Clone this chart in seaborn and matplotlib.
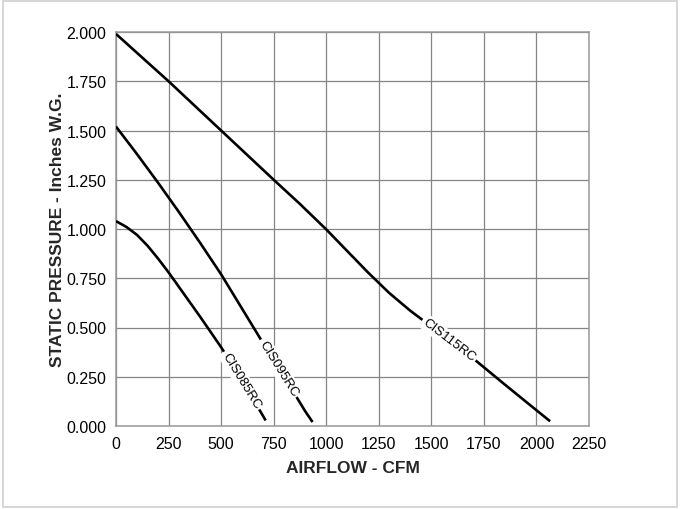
import numpy as np
import pandas as pd
import matplotlib
matplotlib.use("Agg")
import matplotlib.pyplot as plt
from matplotlib.patches import Rectangle
import seaborn as sns

# Fan performance curves: airflow (CFM) vs static pressure (in. W.G.)
models = ["CIS085RC", "CIS095RC", "CIS115RC"]

cis085_cfm = [0, 50, 100, 150, 200, 250, 300, 400, 500, 600, 700, 712]
cis085_sp = [1.040, 1.010, 0.970, 0.915, 0.850, 0.780, 0.705, 0.555, 0.400, 0.230, 0.050, 0.028]

cis095_cfm = [0, 100, 200, 300, 400, 500, 600, 700, 800, 900, 935]
cis095_sp = [1.520, 1.380, 1.235, 1.085, 0.930, 0.770, 0.595, 0.420, 0.250, 0.075, 0.020]

cis115_cfm = [0, 250, 500, 750, 875, 1000, 1100, 1200, 1300, 1400, 1500, 1600, 1708,
              1850, 2000, 2065]
cis115_sp = [1.990, 1.750, 1.500, 1.250, 1.127, 0.998, 0.888, 0.778, 0.675, 0.585, 0.505,
             0.425, 0.335, 0.210, 0.080, 0.024]

# where along each curve its name is written (CFM span of the label)
label_span = {"CIS085RC": (514, 684), "CIS095RC": (689, 860), "CIS115RC": (1462, 1708)}

x_ticks = [0, 250, 500, 750, 1000, 1250, 1500, 1750, 2000, 2250]
y_ticks = [0.0, 0.25, 0.5, 0.75, 1.0, 1.25, 1.5, 1.75, 2.0]

curves = {
    "CIS085RC": (cis085_cfm, cis085_sp),
    "CIS095RC": (cis095_cfm, cis095_sp),
    "CIS115RC": (cis115_cfm, cis115_sp),
}
df = pd.concat(
    [pd.DataFrame({"cfm": c, "sp": p, "model": m}) for m, (c, p) in curves.items()],
    ignore_index=True,
)

sns.set_theme(style="white")
plt.rcParams["font.family"] = ["Liberation Sans", "DejaVu Sans"]

fig = plt.figure(figsize=(6.81, 5.10), dpi=100)
ax = fig.add_axes([116 / 681, 1 - 427 / 510, 473 / 681, 394 / 510])

sns.lineplot(
    data=df, x="cfm", y="sp", hue="model", units="model", estimator=None,
    sort=False, palette={m: "black" for m in models}, linewidth=1.9,
    legend=False, ax=ax, zorder=3, solid_joinstyle="round", solid_capstyle="butt",
)

ax.set_xlim(0, 2250)
ax.set_ylim(0, 2.0)
ax.set_xticks(x_ticks)
ax.set_yticks(y_ticks)
ax.set_xticklabels([str(v) for v in x_ticks])
ax.set_yticklabels([f"{v:.3f}" for v in y_ticks])
ax.tick_params(axis="both", length=0, labelsize=11.5, colors="black")
ax.tick_params(axis="x", pad=7)
ax.tick_params(axis="y", pad=7)

ax.grid(True, color="#858585", linewidth=0.9)
ax.set_axisbelow(True)
for s in ax.spines.values():
    s.set_color("#9a9a9a")
    s.set_linewidth(1.1)

ax.set_xlabel("AIRFLOW - CFM", fontsize=12.5, fontweight="bold", labelpad=7)
ax.set_ylabel("STATIC PRESSURE - Inches W.G.", fontsize=12.5, fontweight="bold", labelpad=1)

# curve names written along the lines, masking the line beneath
fig.canvas.draw()
for m, (c, p) in curves.items():
    a, b = label_span[m]
    pa = np.interp(a, c, p)
    pb = np.interp(b, c, p)
    (xa, ya), (xb, yb) = ax.transData.transform([(a, pa), (b, pb)])
    angle = np.degrees(np.arctan2(yb - ya, xb - xa))
    mid = (a + b) / 2
    ax.text(
        mid, np.interp(mid, c, p), m, rotation=angle, rotation_mode="anchor",
        ha="center", va="center", fontsize=9.5, color="black", zorder=5,
        bbox=dict(facecolor="white", edgecolor="none", pad=1.5),
    )

# light outer frame around the whole chart
fig.patches.append(
    Rectangle((3 / 681, 2 / 510), 674 / 681, 506 / 510, transform=fig.transFigure,
              fill=False, edgecolor="#cfcfcf", linewidth=1.2)
)

fig.savefig("out.png", dpi=100)
